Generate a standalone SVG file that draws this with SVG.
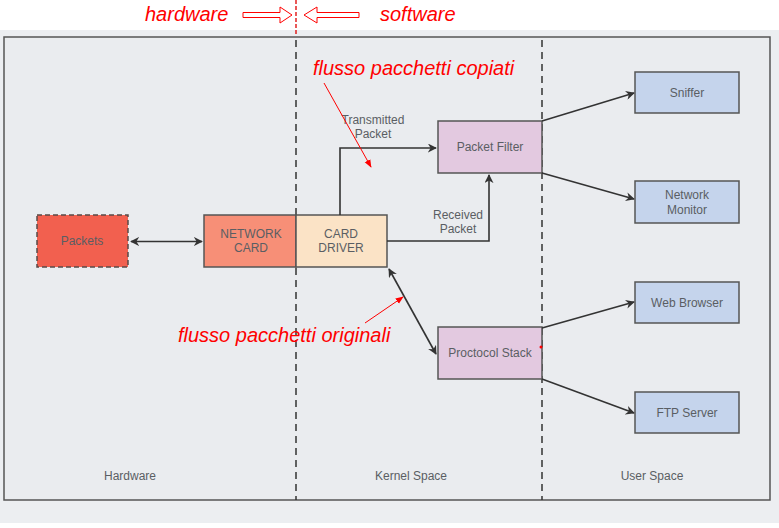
<svg xmlns="http://www.w3.org/2000/svg" width="779" height="528" viewBox="0 0 779 528">
<defs>
<style>
.t{font-family:"Liberation Sans",Arial,sans-serif;font-size:12px;fill:#5a5e63;text-anchor:middle}
.r{font-family:"Liberation Sans",Arial,sans-serif;font-size:20px;font-style:italic;fill:#ff0000}
.n{stroke:#555555;stroke-width:1.5}
.c{stroke:#333333;stroke-width:1.6;fill:none}
.ra{stroke:#ff0000;stroke-width:1;fill:none}
</style>
<marker id="ah" viewBox="0 0 10 10" refX="9" refY="5" markerWidth="9" markerHeight="9" markerUnits="userSpaceOnUse" orient="auto-start-reverse">
<path d="M0,0 L10,5 L0,10 L3,5 Z" fill="#333333"/>
</marker>
<marker id="rh" viewBox="0 0 10 10" refX="9" refY="5" markerWidth="8" markerHeight="8" markerUnits="userSpaceOnUse" orient="auto">
<path d="M0,1 L10,5 L0,9 Z" fill="#ff0000"/>
</marker>
</defs>
<rect x="0" y="0" width="779" height="528" fill="#ffffff"/>
<rect x="0" y="30" width="779" height="493" fill="#eceef1"/>
<rect x="4" y="37" width="766" height="463" fill="#eaecef" stroke="#555555" stroke-width="1.5"/>
<g id="dividers">
<line x1="296" y1="40" x2="296" y2="500" stroke="#333" stroke-width="1.5" stroke-dasharray="7,5"/>
<line x1="542" y1="40" x2="542" y2="500" stroke="#333" stroke-width="1.5" stroke-dasharray="7,5"/>
<line x1="296" y1="0" x2="296" y2="36" stroke="#dd0000" stroke-width="1.3" stroke-dasharray="4,2"/>
</g>
<g id="zone-labels">
<text class="t" x="130" y="480">Hardware</text>
<text class="t" x="411" y="480">Kernel Space</text>
<text class="t" x="652" y="480">User Space</text>
</g>
<g id="packets"><rect x="37" y="215" width="91" height="52" fill="#f2604f" stroke="#5a4a48" stroke-width="1.5" stroke-dasharray="5,3"/><text class="t" x="82" y="245" fill="#5a4040">Packets</text></g>
<g id="network-card"><rect class="n" x="204" y="215" width="92" height="52" fill="#f78f77"/><text class="t" x="251" y="238">NETWORK</text><text class="t" x="251" y="252">CARD</text></g>
<g id="card-driver"><rect class="n" x="296" y="215" width="91" height="52" fill="#fbe3c6"/><text class="t" x="341" y="238">CARD</text><text class="t" x="341" y="252">DRIVER</text></g>
<g id="packet-filter"><rect class="n" x="438" y="121" width="104" height="52" fill="#e3c9e0"/><text class="t" x="490" y="151">Packet Filter</text></g>
<g id="protocol-stack"><rect class="n" x="438" y="327" width="104" height="52" fill="#e3c9e0"/><text class="t" x="490" y="357">Proctocol Stack</text><circle cx="541" cy="347" r="1.5" fill="#ff0000"/></g>
<g id="sniffer"><rect class="n" x="635" y="72" width="104" height="41" fill="#c5d4ec"/><text class="t" x="687" y="97">Sniffer</text></g>
<g id="network-monitor"><rect class="n" x="635" y="181" width="104" height="42" fill="#c5d4ec"/><text class="t" x="687" y="199">Network</text><text class="t" x="687" y="214">Monitor</text></g>
<g id="web-browser"><rect class="n" x="635" y="282" width="104" height="41" fill="#c5d4ec"/><text class="t" x="687" y="307">Web Browser</text></g>
<g id="ftp-server"><rect class="n" x="635" y="392" width="104" height="41" fill="#c5d4ec"/><text class="t" x="687" y="417">FTP Server</text></g>
<g id="connectors">
<line class="c" x1="131" y1="241.5" x2="202" y2="241.5" marker-start="url(#ah)" marker-end="url(#ah)"/>
<polyline class="c" points="340,215 340,148 436,148" marker-end="url(#ah)"/>
<polyline class="c" points="387,241 489,241 489,175" marker-end="url(#ah)"/>
<line class="c" x1="389" y1="269" x2="436" y2="354" marker-start="url(#ah)" marker-end="url(#ah)"/>
<line class="c" x1="542" y1="121" x2="634" y2="93" marker-end="url(#ah)"/>
<line class="c" x1="542" y1="173" x2="634" y2="199" marker-end="url(#ah)"/>
<line class="c" x1="542" y1="328" x2="634" y2="302" marker-end="url(#ah)"/>
<line class="c" x1="542" y1="379" x2="634" y2="413" marker-end="url(#ah)"/>
<text class="t" x="373" y="124">Transmitted</text>
<text class="t" x="373" y="138">Packet</text>
<text class="t" x="458" y="219">Received</text>
<text class="t" x="458" y="233">Packet</text>
</g>
<g id="annotations">
<text class="r" x="145" y="21">hardware</text>
<text class="r" x="380" y="21">software</text>
<path d="M243,12.5 H280 V7 L292,15 L280,23 V17.5 H243 Z" fill="none" stroke="#ff0000" stroke-width="1"/>
<path d="M359,12.5 H317 V7 L304,15 L317,23 V17.5 H359 Z" fill="none" stroke="#ff0000" stroke-width="1"/>
<text class="r" x="313" y="75">flusso pacchetti copiati</text>
<line class="ra" x1="324" y1="83" x2="371" y2="167" marker-end="url(#rh)"/>
<text class="r" x="178" y="342">flusso pacchetti originali</text>
<line class="ra" x1="365" y1="323" x2="403" y2="297" marker-end="url(#rh)"/>
</g>
</svg>
